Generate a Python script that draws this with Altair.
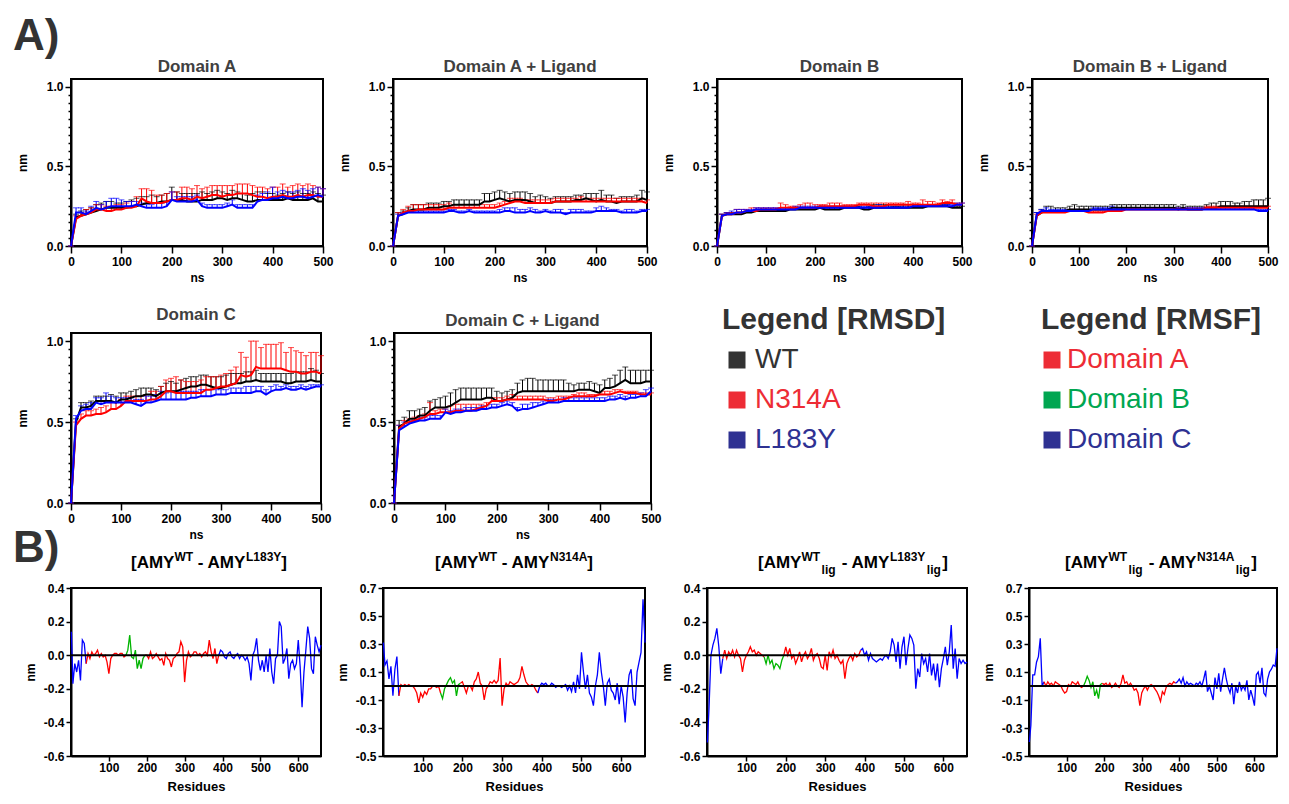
import altair as alt
import pandas as pd

FONT = "Liberation Sans"

# ---------------- RMSD data (nm), every 10 ns ----------------
TIME = list(range(0, 501, 10))
SERIES = ["WT", "N314A", "L183Y"]
SERIES_COLORS = ["#000000", "#ff0000", "#0000ff"]

A_WT = [0.00, 0.18, 0.19, 0.20, 0.21, 0.22, 0.23, 0.24, 0.24, 0.24,
        0.24, 0.24, 0.25, 0.25, 0.26, 0.27, 0.27, 0.27, 0.28, 0.28,
        0.29, 0.29, 0.29, 0.28, 0.28, 0.28, 0.29, 0.29, 0.29, 0.30,
        0.30, 0.29, 0.30, 0.30, 0.29, 0.28, 0.28, 0.29, 0.29, 0.29,
        0.29, 0.29, 0.29, 0.30, 0.29, 0.29, 0.29, 0.29, 0.30, 0.28,
        0.28]
A_WT_ERR = [0, 0.02, 0.03, 0.03, 0.03, 0.04, 0.04, 0.04, 0.04, 0.03,
            0.03, 0.04, 0.04, 0.05, 0.05, 0.04, 0.05, 0.04, 0.04, 0.05,
            0.08, 0.05, 0.04, 0.05, 0.05, 0.05, 0.05, 0.04, 0.05, 0.05,
            0.04, 0.04, 0.05, 0.04, 0.04, 0.04, 0.05, 0.05, 0.05, 0.04,
            0.04, 0.03, 0.04, 0.04, 0.04, 0.05, 0.04, 0.04, 0.04, 0.05,
            0.04]
A_N314A = [0.00, 0.17, 0.19, 0.20, 0.21, 0.23, 0.23, 0.22, 0.22, 0.23,
           0.23, 0.24, 0.24, 0.25, 0.30, 0.28, 0.27, 0.27, 0.27, 0.28,
           0.29, 0.29, 0.30, 0.30, 0.29, 0.31, 0.30, 0.31, 0.32, 0.32,
           0.31, 0.32, 0.32, 0.33, 0.33, 0.33, 0.32, 0.31, 0.31, 0.30,
           0.31, 0.31, 0.32, 0.31, 0.31, 0.32, 0.31, 0.32, 0.32, 0.31,
           0.31]
A_N314A_ERR = [0, 0.02, 0.02, 0.03, 0.03, 0.03, 0.03, 0.03, 0.03, 0.03,
               0.03, 0.03, 0.04, 0.06, 0.06, 0.08, 0.08, 0.05, 0.05, 0.05,
               0.05, 0.05, 0.07, 0.07, 0.07, 0.07, 0.06, 0.06, 0.06, 0.06,
               0.07, 0.06, 0.06, 0.06, 0.06, 0.06, 0.06, 0.06, 0.06, 0.06,
               0.06, 0.06, 0.07, 0.06, 0.07, 0.07, 0.07, 0.07, 0.06, 0.06,
               0.05]
A_L183Y = [0.00, 0.21, 0.21, 0.20, 0.22, 0.24, 0.23, 0.24, 0.25, 0.25,
           0.25, 0.25, 0.25, 0.26, 0.25, 0.24, 0.24, 0.24, 0.24, 0.25,
           0.29, 0.28, 0.28, 0.28, 0.28, 0.29, 0.25, 0.24, 0.24, 0.24,
           0.24, 0.25, 0.26, 0.24, 0.24, 0.24, 0.24, 0.28, 0.29, 0.29,
           0.30, 0.30, 0.31, 0.30, 0.30, 0.31, 0.31, 0.30, 0.31, 0.32,
           0.31]
A_L183Y_ERR = [0, 0.03, 0.03, 0.02, 0.03, 0.04, 0.03, 0.04, 0.05, 0.05,
               0.04, 0.03, 0.03, 0.02, 0.02, 0.02, 0.02, 0.03, 0.03, 0.03,
               0.05, 0.03, 0.03, 0.03, 0.03, 0.03, 0.02, 0.02, 0.02, 0.02,
               0.02, 0.02, 0.03, 0.02, 0.02, 0.02, 0.02, 0.04, 0.04, 0.05,
               0.07, 0.04, 0.04, 0.04, 0.04, 0.04, 0.05, 0.05, 0.05, 0.05,
               0.05]

AL_WT = [0.00, 0.19, 0.20, 0.22, 0.23, 0.23, 0.23, 0.24, 0.24, 0.24,
         0.25, 0.25, 0.26, 0.26, 0.26, 0.26, 0.26, 0.26, 0.28, 0.28,
         0.29, 0.30, 0.29, 0.28, 0.29, 0.29, 0.29, 0.28, 0.27, 0.27,
         0.27, 0.27, 0.28, 0.28, 0.28, 0.28, 0.29, 0.29, 0.30, 0.29,
         0.28, 0.29, 0.28, 0.28, 0.27, 0.28, 0.28, 0.28, 0.28, 0.30,
         0.29]
AL_WT_ERR = [0, 0.02, 0.02, 0.02, 0.03, 0.03, 0.03, 0.03, 0.03, 0.03,
             0.03, 0.03, 0.03, 0.03, 0.03, 0.03, 0.03, 0.03, 0.05, 0.05,
             0.05, 0.05, 0.05, 0.05, 0.05, 0.05, 0.05, 0.05, 0.04, 0.05,
             0.04, 0.03, 0.03, 0.03, 0.03, 0.03, 0.03, 0.03, 0.03, 0.04,
             0.05, 0.06, 0.04, 0.04, 0.03, 0.03, 0.03, 0.03, 0.04, 0.05,
             0.05]
AL_N314A = [0.00, 0.19, 0.21, 0.22, 0.22, 0.23, 0.23, 0.23, 0.23, 0.23,
            0.23, 0.24, 0.24, 0.24, 0.24, 0.24, 0.24, 0.24, 0.24, 0.24,
            0.24, 0.25, 0.26, 0.27, 0.28, 0.28, 0.27, 0.27, 0.27, 0.27,
            0.27, 0.27, 0.28, 0.28, 0.28, 0.28, 0.28, 0.28, 0.28, 0.28,
            0.28, 0.28, 0.28, 0.28, 0.28, 0.28, 0.28, 0.28, 0.28, 0.28,
            0.27]
AL_N314A_ERR = [0, 0.02, 0.02, 0.03, 0.04, 0.03, 0.03, 0.03, 0.03, 0.03,
                0.03, 0.03, 0.02, 0.02, 0.02, 0.02, 0.02, 0.02, 0.02, 0.02,
                0.02, 0.02, 0.02, 0.03, 0.02, 0.02, 0.02, 0.02, 0.02, 0.02,
                0.02, 0.02, 0.02, 0.02, 0.02, 0.02, 0.02, 0.03, 0.02, 0.02,
                0.02, 0.02, 0.02, 0.02, 0.02, 0.02, 0.02, 0.02, 0.02, 0.02,
                0.02]
AL_L183Y = [0.00, 0.19, 0.20, 0.21, 0.21, 0.21, 0.21, 0.21, 0.21, 0.21,
            0.21, 0.22, 0.22, 0.21, 0.21, 0.22, 0.21, 0.21, 0.21, 0.21,
            0.21, 0.21, 0.22, 0.22, 0.21, 0.21, 0.21, 0.22, 0.21, 0.21,
            0.22, 0.21, 0.21, 0.21, 0.20, 0.21, 0.21, 0.21, 0.21, 0.21,
            0.22, 0.22, 0.22, 0.22, 0.22, 0.21, 0.21, 0.21, 0.21, 0.22,
            0.22]
AL_L183Y_ERR = [0, 0.01, 0.01, 0.01, 0.01, 0.01, 0.01, 0.01, 0.01, 0.01,
                0.01, 0.01, 0.01, 0.01, 0.01, 0.01, 0.01, 0.01, 0.01, 0.01,
                0.01, 0.02, 0.02, 0.02, 0.03, 0.02, 0.02, 0.02, 0.02, 0.01,
                0.01, 0.01, 0.02, 0.02, 0.01, 0.02, 0.02, 0.02, 0.01, 0.01,
                0.02, 0.03, 0.02, 0.01, 0.01, 0.01, 0.02, 0.02, 0.01, 0.01,
                0.01]

B_WT = [0.00, 0.19, 0.20, 0.20, 0.20, 0.20, 0.21, 0.21, 0.22, 0.22,
        0.22, 0.22, 0.22, 0.22, 0.22, 0.23, 0.23, 0.23, 0.23, 0.23,
        0.23, 0.24, 0.23, 0.23, 0.23, 0.23, 0.24, 0.24, 0.24, 0.24,
        0.23, 0.23, 0.24, 0.24, 0.24, 0.24, 0.24, 0.24, 0.24, 0.24,
        0.24, 0.24, 0.24, 0.25, 0.25, 0.25, 0.25, 0.25, 0.24, 0.24,
        0.24]
B_WT_ERR = [0, 0.01, 0.01, 0.01, 0.01, 0.01, 0.01, 0.01, 0.01, 0.01,
            0.01, 0.01, 0.01, 0.01, 0.01, 0.01, 0.01, 0.01, 0.01, 0.01,
            0.01, 0.01, 0.01, 0.01, 0.01, 0.01, 0.01, 0.01, 0.01, 0.01,
            0.01, 0.02, 0.02, 0.02, 0.02, 0.02, 0.01, 0.01, 0.02, 0.02,
            0.02, 0.02, 0.01, 0.01, 0.01, 0.01, 0.01, 0.01, 0.01, 0.01,
            0.01]
B_N314A = [0.00, 0.19, 0.20, 0.20, 0.21, 0.21, 0.22, 0.22, 0.22, 0.23,
           0.23, 0.23, 0.23, 0.24, 0.24, 0.24, 0.24, 0.24, 0.24, 0.24,
           0.24, 0.25, 0.25, 0.25, 0.25, 0.25, 0.25, 0.25, 0.25, 0.26,
           0.26, 0.26, 0.25, 0.25, 0.25, 0.26, 0.26, 0.26, 0.26, 0.26,
           0.26, 0.26, 0.26, 0.26, 0.26, 0.26, 0.27, 0.27, 0.27, 0.26,
           0.26]
B_N314A_ERR = [0, 0.01, 0.01, 0.01, 0.02, 0.02, 0.01, 0.02, 0.02, 0.01,
               0.01, 0.01, 0.01, 0.03, 0.02, 0.01, 0.01, 0.02, 0.03, 0.03,
               0.02, 0.01, 0.01, 0.02, 0.02, 0.02, 0.01, 0.01, 0.01, 0.01,
               0.01, 0.01, 0.02, 0.02, 0.02, 0.01, 0.01, 0.01, 0.01, 0.02,
               0.01, 0.01, 0.03, 0.02, 0.02, 0.01, 0.02, 0.01, 0.02, 0.01,
               0.01]
B_L183Y = [0.00, 0.19, 0.20, 0.20, 0.21, 0.21, 0.22, 0.22, 0.23, 0.23,
           0.23, 0.23, 0.23, 0.23, 0.23, 0.23, 0.23, 0.24, 0.24, 0.24,
           0.24, 0.24, 0.24, 0.24, 0.24, 0.24, 0.24, 0.24, 0.24, 0.24,
           0.24, 0.24, 0.24, 0.24, 0.24, 0.24, 0.24, 0.24, 0.24, 0.24,
           0.25, 0.25, 0.25, 0.25, 0.25, 0.25, 0.25, 0.25, 0.25, 0.26,
           0.26]
B_L183Y_ERR = [0, 0.01, 0.01, 0.02, 0.02, 0.02, 0.01, 0.01, 0.01, 0.01,
               0.01, 0.01, 0.01, 0.01, 0.01, 0.01, 0.02, 0.01, 0.01, 0.01,
               0.01, 0.01, 0.01, 0.01, 0.01, 0.01, 0.01, 0.01, 0.01, 0.01,
               0.01, 0.01, 0.01, 0.02, 0.01, 0.01, 0.01, 0.01, 0.01, 0.01,
               0.01, 0.01, 0.01, 0.01, 0.01, 0.01, 0.01, 0.01, 0.01, 0.01,
               0.01]

BL_WT = [0.00, 0.19, 0.21, 0.22, 0.22, 0.22, 0.22, 0.22, 0.23, 0.23,
         0.23, 0.23, 0.23, 0.23, 0.23, 0.23, 0.23, 0.24, 0.24, 0.24,
         0.24, 0.24, 0.24, 0.24, 0.24, 0.24, 0.24, 0.24, 0.24, 0.24,
         0.24, 0.23, 0.24, 0.23, 0.23, 0.23, 0.23, 0.24, 0.24, 0.24,
         0.25, 0.25, 0.25, 0.25, 0.25, 0.25, 0.25, 0.25, 0.25, 0.25,
         0.25]
BL_WT_ERR = [0, 0.02, 0.02, 0.03, 0.03, 0.02, 0.02, 0.02, 0.02, 0.03,
             0.02, 0.02, 0.02, 0.02, 0.02, 0.02, 0.02, 0.02, 0.02, 0.02,
             0.02, 0.02, 0.02, 0.02, 0.02, 0.02, 0.02, 0.02, 0.02, 0.02,
             0.02, 0.02, 0.02, 0.02, 0.02, 0.02, 0.02, 0.02, 0.03, 0.03,
             0.03, 0.03, 0.03, 0.02, 0.02, 0.03, 0.03, 0.04, 0.04, 0.04,
             0.05]
BL_N314A = [0.00, 0.19, 0.21, 0.21, 0.21, 0.21, 0.21, 0.21, 0.22, 0.22,
            0.22, 0.22, 0.21, 0.21, 0.21, 0.21, 0.22, 0.22, 0.22, 0.22,
            0.23, 0.23, 0.23, 0.23, 0.23, 0.23, 0.23, 0.23, 0.23, 0.23,
            0.23, 0.23, 0.23, 0.23, 0.23, 0.23, 0.23, 0.24, 0.24, 0.24,
            0.24, 0.24, 0.24, 0.24, 0.24, 0.24, 0.24, 0.24, 0.24, 0.24,
            0.24]
BL_N314A_ERR = [0, 0.01, 0.01, 0.01, 0.01, 0.01, 0.01, 0.01, 0.01, 0.01,
                0.01, 0.01, 0.01, 0.01, 0.01, 0.01, 0.01, 0.01, 0.01, 0.01,
                0.01, 0.01, 0.01, 0.01, 0.01, 0.01, 0.01, 0.01, 0.01, 0.01,
                0.01, 0.01, 0.01, 0.01, 0.01, 0.01, 0.01, 0.01, 0.01, 0.01,
                0.01, 0.01, 0.01, 0.01, 0.01, 0.01, 0.01, 0.01, 0.01, 0.01,
                0.01]
BL_L183Y = [0.00, 0.20, 0.22, 0.22, 0.22, 0.22, 0.22, 0.22, 0.22, 0.22,
            0.22, 0.22, 0.22, 0.23, 0.23, 0.23, 0.23, 0.23, 0.23, 0.23,
            0.23, 0.23, 0.23, 0.23, 0.23, 0.23, 0.23, 0.23, 0.23, 0.23,
            0.23, 0.23, 0.23, 0.23, 0.23, 0.23, 0.23, 0.23, 0.23, 0.23,
            0.23, 0.23, 0.23, 0.23, 0.23, 0.23, 0.23, 0.23, 0.22, 0.22,
            0.22]
BL_L183Y_ERR = [0, 0.01, 0.01, 0.02, 0.01, 0.01, 0.01, 0.01, 0.01, 0.01,
                0.01, 0.01, 0.01, 0.01, 0.01, 0.01, 0.01, 0.02, 0.01, 0.01,
                0.01, 0.01, 0.01, 0.01, 0.01, 0.01, 0.01, 0.01, 0.01, 0.01,
                0.01, 0.01, 0.01, 0.01, 0.01, 0.01, 0.01, 0.01, 0.01, 0.01,
                0.01, 0.01, 0.01, 0.01, 0.01, 0.01, 0.01, 0.01, 0.01, 0.01,
                0.01]

C_WT = [0.00, 0.50, 0.59, 0.59, 0.60, 0.63, 0.63, 0.63, 0.63, 0.62,
        0.64, 0.64, 0.65, 0.66, 0.66, 0.67, 0.67, 0.66, 0.68, 0.69,
        0.69, 0.69, 0.70, 0.71, 0.72, 0.72, 0.73, 0.73, 0.72, 0.71,
        0.71, 0.72, 0.73, 0.74, 0.74, 0.75, 0.75, 0.76, 0.75, 0.75,
        0.75, 0.75, 0.75, 0.74, 0.74, 0.75, 0.75, 0.75, 0.76, 0.75,
        0.75]
C_WT_ERR = [0, 0.02, 0.03, 0.03, 0.03, 0.03, 0.03, 0.03, 0.04, 0.04,
            0.04, 0.04, 0.04, 0.04, 0.05, 0.04, 0.04, 0.04, 0.04, 0.05,
            0.06, 0.05, 0.06, 0.06, 0.06, 0.06, 0.06, 0.06, 0.06, 0.07,
            0.07, 0.07, 0.07, 0.06, 0.06, 0.06, 0.06, 0.06, 0.05, 0.05,
            0.05, 0.05, 0.05, 0.06, 0.06, 0.06, 0.06, 0.06, 0.07, 0.07,
            0.05]
C_N314A = [0.00, 0.48, 0.52, 0.54, 0.54, 0.55, 0.55, 0.56, 0.58, 0.58,
           0.60, 0.63, 0.63, 0.63, 0.63, 0.63, 0.64, 0.64, 0.66, 0.69,
           0.69, 0.68, 0.68, 0.68, 0.68, 0.68, 0.68, 0.70, 0.70, 0.71,
           0.72, 0.72, 0.73, 0.74, 0.79, 0.78, 0.79, 0.84, 0.83, 0.83,
           0.83, 0.83, 0.83, 0.82, 0.81, 0.81, 0.80, 0.80, 0.81, 0.81,
           0.80]
C_N314A_ERR = [0, 0.02, 0.03, 0.03, 0.03, 0.03, 0.04, 0.04, 0.04, 0.04,
               0.04, 0.03, 0.03, 0.03, 0.03, 0.04, 0.05, 0.05, 0.06, 0.07,
               0.08, 0.10, 0.08, 0.07, 0.07, 0.07, 0.08, 0.08, 0.08, 0.07,
               0.07, 0.08, 0.09, 0.10, 0.14, 0.12, 0.21, 0.16, 0.13, 0.15,
               0.15, 0.15, 0.16, 0.11, 0.15, 0.13, 0.13, 0.11, 0.12, 0.12,
               0.11]
C_L183Y = [0.00, 0.52, 0.57, 0.58, 0.58, 0.62, 0.61, 0.62, 0.62, 0.62,
           0.62, 0.62, 0.62, 0.61, 0.60, 0.62, 0.62, 0.63, 0.64, 0.64,
           0.64, 0.64, 0.64, 0.64, 0.65, 0.65, 0.66, 0.66, 0.66, 0.67,
           0.67, 0.67, 0.68, 0.68, 0.68, 0.68, 0.68, 0.69, 0.69, 0.67,
           0.69, 0.70, 0.70, 0.71, 0.70, 0.70, 0.71, 0.70, 0.71, 0.72,
           0.72]
C_L183Y_ERR = [0, 0.02, 0.03, 0.03, 0.04, 0.03, 0.04, 0.06, 0.04, 0.03,
               0.03, 0.03, 0.03, 0.03, 0.04, 0.04, 0.04, 0.04, 0.05, 0.04,
               0.05, 0.05, 0.05, 0.05, 0.04, 0.04, 0.04, 0.04, 0.04, 0.03,
               0.03, 0.03, 0.03, 0.03, 0.03, 0.04, 0.04, 0.03, 0.03, 0.03,
               0.03, 0.03, 0.02, 0.02, 0.02, 0.02, 0.02, 0.02, 0.02, 0.01,
               0.01]

CL_WT = [0.00, 0.47, 0.49, 0.52, 0.52, 0.54, 0.54, 0.57, 0.59, 0.59,
         0.59, 0.60, 0.62, 0.64, 0.64, 0.64, 0.64, 0.64, 0.65, 0.65,
         0.63, 0.63, 0.64, 0.65, 0.68, 0.69, 0.69, 0.69, 0.69, 0.69,
         0.69, 0.69, 0.69, 0.69, 0.69, 0.69, 0.70, 0.70, 0.70, 0.69,
         0.68, 0.71, 0.71, 0.72, 0.74, 0.76, 0.74, 0.74, 0.74, 0.75,
         0.75]
CL_WT_ERR = [0, 0.04, 0.04, 0.05, 0.05, 0.04, 0.05, 0.06, 0.05, 0.06,
             0.07, 0.08, 0.08, 0.07, 0.07, 0.07, 0.07, 0.07, 0.06, 0.06,
             0.06, 0.05, 0.05, 0.05, 0.06, 0.07, 0.08, 0.08, 0.07, 0.07,
             0.07, 0.07, 0.07, 0.07, 0.05, 0.04, 0.04, 0.04, 0.05, 0.05,
             0.05, 0.05, 0.06, 0.07, 0.08, 0.08, 0.08, 0.08, 0.08, 0.07,
             0.07]
CL_N314A = [0.00, 0.46, 0.49, 0.50, 0.51, 0.52, 0.53, 0.55, 0.55, 0.56,
            0.56, 0.56, 0.57, 0.57, 0.57, 0.57, 0.58, 0.59, 0.60, 0.63,
            0.63, 0.63, 0.64, 0.64, 0.64, 0.64, 0.64, 0.64, 0.64, 0.64,
            0.63, 0.63, 0.64, 0.64, 0.65, 0.66, 0.66, 0.66, 0.66, 0.66,
            0.67, 0.67, 0.67, 0.68, 0.69, 0.68, 0.68, 0.68, 0.67, 0.67,
            0.67]
CL_N314A_ERR = [0, 0.02, 0.02, 0.02, 0.02, 0.02, 0.02, 0.07, 0.02, 0.02,
                0.02, 0.04, 0.04, 0.04, 0.04, 0.04, 0.03, 0.02, 0.02, 0.02,
                0.02, 0.02, 0.02, 0.03, 0.02, 0.02, 0.02, 0.02, 0.02, 0.02,
                0.02, 0.02, 0.02, 0.02, 0.01, 0.01, 0.02, 0.02, 0.01, 0.01,
                0.01, 0.02, 0.02, 0.02, 0.01, 0.01, 0.01, 0.01, 0.01, 0.01,
                0.01]
CL_L183Y = [0.00, 0.45, 0.47, 0.49, 0.50, 0.51, 0.51, 0.52, 0.52, 0.52,
            0.56, 0.55, 0.56, 0.56, 0.57, 0.57, 0.57, 0.58, 0.58, 0.59,
            0.59, 0.60, 0.61, 0.60, 0.57, 0.58, 0.58, 0.59, 0.60, 0.61,
            0.62, 0.62, 0.62, 0.63, 0.63, 0.63, 0.63, 0.63, 0.63, 0.63,
            0.63, 0.63, 0.64, 0.64, 0.65, 0.64, 0.65, 0.65, 0.66, 0.66,
            0.69]
CL_L183Y_ERR = [0, 0.03, 0.03, 0.02, 0.02, 0.02, 0.02, 0.02, 0.02, 0.02,
                0.02, 0.02, 0.02, 0.02, 0.02, 0.02, 0.02, 0.02, 0.02, 0.02,
                0.02, 0.02, 0.02, 0.02, 0.02, 0.03, 0.03, 0.03, 0.02, 0.02,
                0.02, 0.02, 0.02, 0.02, 0.02, 0.02, 0.02, 0.02, 0.02, 0.02,
                0.02, 0.02, 0.02, 0.02, 0.02, 0.02, 0.02, 0.02, 0.02, 0.04,
                0.02]

# ---------------- RMSF difference data (nm), sampled residues ----------------
RES = [1] + list(range(5, 661, 5))
DOMAIN_NAMES = ["Domain A", "Domain B", "Domain C"]
DOMAIN_LINE_COLORS = ["#ff0000", "#00b400", "#0000ff"]
DOMAIN_SEGMENTS = [(1, 40, "Domain C"), (40, 145, "Domain A"), (145, 195, "Domain B"),
                   (195, 390, "Domain A"), (390, 660, "Domain C")]

D_WT_L183Y = [0.14, -0.17, -0.05, -0.10, -0.03, -0.15, 0.09, 0.07, -0.05, 0.01,
              -0.02, 0.02, 0.00, 0.01, 0.03, -0.01, 0.01, -0.01, 0.00, -0.04,
              -0.11, -0.02, 0.00, 0.01, 0.01, 0.00, 0.01, 0.01, -0.01, 0.00,
              0.03, 0.12, -0.01, -0.02, 0.03, -0.08, -0.03, -0.08, -0.02, 0.00,
              0.00, -0.02, 0.02, -0.02, -0.01, 0.01, -0.01, -0.03, -0.02, -0.06,
              0.01, -0.02, -0.03, -0.07, -0.02, -0.01, 0.01, 0.02, 0.08, 0.05,
              -0.16, -0.03, 0.02, -0.01, 0.00, 0.02, 0.02, 0.00, 0.01, -0.01,
              0.01, 0.02, 0.00, 0.09, 0.02, -0.02, 0.04, -0.05, 0.00, 0.03,
              0.02, -0.01, -0.02, 0.01, 0.02, -0.01, -0.02, 0.00, 0.01, -0.02,
              0.00, -0.01, -0.03, -0.01, -0.05, -0.15, 0.00, 0.03, 0.10, -0.03,
              -0.09, -0.03, -0.10, 0.00, -0.10, 0.04, -0.10, -0.17, -0.02, 0.00,
              0.20, 0.17, -0.05, -0.02, 0.04, -0.14, -0.05, -0.03, -0.08, -0.05,
              0.09, -0.07, -0.31, -0.10, 0.03, 0.17, 0.10, -0.08, -0.11, 0.11,
              0.06, 0.02, 0.06]
D_WT_N314A = [0.31, 0.15, 0.18, 0.05, 0.14, -0.07, 0.12, 0.21, -0.07, 0.01,
              0.00, 0.01, 0.00, 0.01, 0.00, 0.00, -0.02, -0.05, -0.12, -0.05,
              -0.08, -0.04, -0.06, -0.02, -0.02, 0.00, 0.00, -0.01, 0.00, -0.05,
              -0.09, -0.02, 0.01, 0.04, 0.06, 0.02, 0.04, -0.07, 0.01, 0.02,
              0.03, -0.01, -0.05, 0.00, 0.00, -0.03, 0.03, 0.05, 0.10, 0.02,
              0.00, -0.10, -0.02, 0.00, 0.03, 0.02, 0.04, 0.02, 0.04, 0.20,
              -0.14, -0.02, 0.02, 0.00, 0.03, 0.02, 0.01, 0.02, 0.03, 0.06,
              0.14, 0.08, 0.03, 0.01, 0.00, 0.01, 0.00, -0.03, -0.05, 0.00,
              0.02, 0.01, 0.02, 0.00, 0.00, 0.02, 0.01, -0.01, 0.00, 0.00,
              -0.01, 0.00, 0.01, -0.03, 0.00, -0.04, 0.03, -0.05, 0.08, -0.02,
              0.24, 0.10, -0.02, 0.08, -0.05, -0.08, -0.14, 0.00, 0.08, 0.24,
              0.10, 0.00, -0.14, 0.02, 0.05, -0.03, -0.05, -0.10, 0.02, -0.13,
              0.00, -0.08, -0.26, -0.05, 0.08, 0.12, -0.09, -0.14, 0.10, 0.17,
              0.24, 0.62, 0.31]
D_WTLIG_L183YLIG = [-0.52, -0.32, 0.00, 0.06, 0.10, 0.16, 0.05, -0.11, -0.02, 0.03,
                    -0.02, 0.02, 0.00, 0.03, -0.01, 0.03, 0.00, -0.02, -0.10, -0.03,
                    0.00, 0.02, 0.05, 0.02, 0.03, 0.00, 0.02, 0.01, 0.00, -0.01,
                    -0.05, 0.00, -0.05, -0.03, -0.08, -0.05, -0.06, -0.08, -0.03, 0.00,
                    0.05, 0.00, 0.04, -0.02, 0.00, -0.05, -0.02, 0.02, -0.04, 0.00,
                    0.02, -0.02, 0.00, 0.04, -0.03, 0.00, 0.01, -0.02, -0.07, -0.08,
                    0.00, -0.09, 0.02, -0.01, 0.03, -0.02, 0.00, -0.03, -0.05, -0.03,
                    -0.14, -0.05, -0.02, 0.00, -0.03, 0.01, -0.01, 0.00, 0.03, 0.04,
                    0.00, 0.02, -0.03, 0.01, -0.02, -0.03, -0.04, -0.03, -0.02, -0.03,
                    -0.01, 0.00, -0.02, 0.02, 0.10, 0.06, -0.04, 0.08, -0.08, 0.05,
                    0.11, -0.06, 0.04, 0.12, 0.10, 0.06, -0.20, -0.08, -0.13, 0.01,
                    -0.05, -0.02, -0.10, 0.01, -0.12, -0.05, -0.15, -0.05, -0.19, -0.08,
                    -0.02, 0.05, -0.06, 0.02, 0.18, -0.08, 0.04, -0.14, -0.02, -0.05,
                    -0.03, -0.05, -0.04]
D_WTLIG_N314ALIG = [-0.40, -0.28, 0.08, 0.08, 0.17, 0.21, 0.34, 0.00, 0.03, 0.00,
                    0.03, 0.01, 0.02, 0.00, 0.03, 0.02, 0.01, 0.00, -0.03, -0.05,
                    -0.04, 0.01, 0.00, 0.03, 0.02, 0.01, 0.03, 0.00, -0.01, 0.00,
                    0.03, 0.07, 0.04, -0.01, 0.03, -0.07, -0.03, -0.09, 0.01, 0.02,
                    0.01, 0.02, 0.00, 0.02, -0.01, 0.00, 0.02, 0.00, -0.01, 0.02,
                    0.08, 0.02, 0.03, 0.00, 0.02, 0.00, -0.03, -0.02, -0.05, -0.14,
                    -0.05, -0.02, 0.00, -0.03, 0.00, 0.01, 0.00, -0.02, -0.04, -0.07,
                    -0.11, -0.04, -0.06, -0.01, 0.01, 0.02, 0.01, 0.03, 0.02, 0.03,
                    0.05, 0.02, 0.06, 0.00, 0.03, 0.01, 0.02, 0.01, 0.00, 0.02,
                    0.01, 0.03, 0.00, 0.05, 0.11, -0.04, 0.00, -0.05, -0.10, 0.06,
                    -0.02, 0.09, -0.04, 0.05, 0.13, 0.05, -0.01, -0.05, 0.02, -0.13,
                    0.00, -0.05, 0.03, -0.03, 0.00, -0.03, 0.04, -0.10, -0.03, -0.08,
                    -0.14, 0.08, 0.10, 0.02, 0.13, -0.05, -0.07, 0.05, 0.10, 0.12,
                    0.15, 0.14, 0.27]

# ---------------- ticks / labels ----------------
NS_TICKS = [0, 100, 200, 300, 400, 500]
RMSD_Y_TICKS = [0.0, 0.05, 0.1, 0.15, 0.2, 0.25, 0.3, 0.35, 0.4, 0.45, 0.5,
                0.55, 0.6, 0.65, 0.7, 0.75, 0.8, 0.85, 0.9, 0.95, 1.0]
RES_TICKS = [100, 200, 300, 400, 500, 600]
RMSF_Y_TICKS_1 = [-0.6, -0.4, -0.2, 0.0, 0.2, 0.4]
RMSF_Y_TICKS_2 = [-0.5, -0.3, -0.1, 0.1, 0.3, 0.5, 0.7]

RMSD_LEGEND_LABELS = ["WT", "N314A", "L183Y"]
RMSD_LEGEND_COLORS = ["#333333", "#ed2c35", "#2e3192"]
RMSF_LEGEND_LABELS = ["Domain A", "Domain B", "Domain C"]
RMSF_LEGEND_COLORS = ["#ed2c35", "#00a651", "#2e3192"]

MAJOR_TEST = "abs(datum.value % 0.5) < 0.001 || abs(datum.value % 0.5 - 0.5) < 0.001"

# Arial/Liberation Sans Bold advance widths (per 1000 em) for title layout
W_BOLD = {' ': 278, '[': 333, ']': 333, '-': 333, 'A': 722, 'M': 833, 'Y': 667,
          'W': 944, 'T': 611, 'L': 611, 'N': 722, '1': 556, '3': 556, '4': 556,
          '8': 556, 'l': 278, 'i': 278, 'g': 611}


def tw(s, fs):
    return sum(W_BOLD.get(c, 600) for c in s) * fs / 1000.0


def text_layer(txt, x, y, size, weight="bold", color="#000000", align="left", baseline="alphabetic"):
    return alt.Chart(pd.DataFrame({"t": [txt]})).mark_text(
        align=align, baseline=baseline, fontSize=size, fontWeight=weight, font=FONT, color=color
    ).encode(text="t:N", x=alt.value(x), y=alt.value(y))


def rmsd_panel(title, vals, errs, width, height, title_y=-7, extra=()):
    rows = []
    for name, vl, el in zip(SERIES, vals, errs):
        for t, v, e in zip(TIME, vl, el):
            rows.append({"t": t, "v": v, "up": round(v + e, 4), "s": name})
    df = pd.DataFrame(rows)
    xs = alt.Scale(domain=[0, 500], nice=False, zero=False)
    ys = alt.Scale(domain=[0, 1.05], nice=False)
    col = alt.Color("s:N", scale=alt.Scale(domain=SERIES, range=SERIES_COLORS), legend=None)
    x_axis = alt.Axis(values=NS_TICKS, tickCount=60, title="ns", labelFlush=False, tickSize=7,
                      labelPadding=3, titlePadding=5, format="d", labelOverlap=False)
    y_axis = alt.Axis(values=RMSD_Y_TICKS, tickCount=60, title="nm", labelOverlap=False,
                      labelExpr="(" + MAJOR_TEST + ") ? format(datum.value, '.1f') : ''",
                      tickSize={"condition": {"test": MAJOR_TEST, "value": 6}, "value": 3},
                      titlePadding=17)
    base = alt.Chart(df)
    stems = base.mark_rule(strokeWidth=1).encode(
        x=alt.X("t:Q", scale=xs, axis=x_axis),
        y=alt.Y("v:Q", scale=ys, axis=y_axis),
        y2="up:Q", color=col)
    caps = base.mark_tick(orient="horizontal", size=6, thickness=1).encode(
        x=alt.X("t:Q", scale=xs), y=alt.Y("up:Q", scale=ys), color=col)
    line = base.mark_line(strokeWidth=2).encode(
        x=alt.X("t:Q", scale=xs), y=alt.Y("v:Q", scale=ys), color=col)
    ttl = text_layer(title, width / 2.0, title_y, 17, color="#404040", align="center")
    return alt.layer(stems, caps, line, ttl, *extra).properties(
        width=width, height=height,
        view=alt.ViewBackground(stroke="#000000", strokeWidth=2))


def title_pieces(pieces, width, dx=0.0, sub_gap=1.5):
    sizes = {"b": 17, "p": 12, "s": 12}
    ys = {"b": -20, "p": -27, "s": -14}
    gaps = {"b": 0.0, "p": 0.0, "s": sub_gap}
    total = sum(tw(t, sizes[k]) + 2 * gaps[k] for t, k in pieces)
    x = width / 2.0 - total / 2.0 + dx
    layers = []
    for t, k in pieces:
        x += gaps[k]
        lead = len(t) - len(t.lstrip(" "))
        layers.append(text_layer(t.strip(" "), x + tw(" " * lead, sizes[k]), ys[k], sizes[k]))
        x += tw(t, sizes[k]) + gaps[k]
    return layers


def rmsf_panel(pieces, vals, ydom, yticks, width, height, dx=0.0, extra=()):
    rows = []
    for si, (a, b, dom) in enumerate(DOMAIN_SEGMENTS):
        for r, v in zip(RES, vals):
            if a <= r <= b:
                rows.append({"res": r, "v": v, "dom": dom, "seg": si})
    df = pd.DataFrame(rows)
    xs = alt.Scale(domain=[0, 660], nice=False, zero=False)
    ys = alt.Scale(domain=ydom, nice=False, zero=False)
    x_axis = alt.Axis(values=RES_TICKS, tickCount=60, title="Residues", labelFlush=False, tickSize=5,
                      labelPadding=1, titlePadding=7, titleFontSize=13, format="d",
                      labelOverlap=False)
    y_axis = alt.Axis(values=yticks, tickCount=60, title="nm", labelOverlap=False, tickSize=5,
                      labelExpr="replace(format(datum.value, '.1f'), '\u2212', '-')",
                      titlePadding=6)
    line = alt.Chart(df).mark_line(strokeWidth=1.3).encode(
        x=alt.X("res:Q", scale=xs, axis=x_axis),
        y=alt.Y("v:Q", scale=ys, axis=y_axis),
        color=alt.Color("dom:N", scale=alt.Scale(domain=DOMAIN_NAMES, range=DOMAIN_LINE_COLORS),
                        legend=None),
        detail="seg:N", order="res:Q")
    zero = alt.Chart(pd.DataFrame({"z": [0.0]})).mark_rule(color="#000000", strokeWidth=2).encode(
        y=alt.Y("z:Q", scale=ys))
    return alt.layer(line, zero, *title_pieces(pieces, width, dx), *extra).properties(
        width=width, height=height,
        view=alt.ViewBackground(stroke="#000000", strokeWidth=2))


def legend_cell(header, labels, colors, width, height, hx, sx, tx):
    ys = alt.Scale(domain=[0.325, 4.575], reverse=True, nice=False, zero=False)
    hdf = pd.DataFrame({"r": [0], "t": [header]})
    idf = pd.DataFrame({"r": [1, 2, 3], "t": labels, "c": colors})
    head = alt.Chart(hdf).mark_text(align="left", baseline="middle", fontSize=30,
                                    fontWeight="bold", font=FONT, color="#333333").encode(
        x=alt.value(hx), y=alt.Y("r:Q", scale=ys, axis=None), text="t:N")
    sq = alt.Chart(idf).mark_square(size=289, opacity=1).encode(
        x=alt.value(sx), y=alt.Y("r:Q", scale=ys, axis=None),
        color=alt.Color("c:N", scale=None))
    txt = alt.Chart(idf).mark_text(align="left", baseline="middle", fontSize=28, font=FONT).encode(
        x=alt.value(tx), y=alt.Y("r:Q", scale=ys, axis=None), text="t:N",
        color=alt.Color("c:N", scale=None))
    return alt.layer(head, sq, txt).properties(
        width=width, height=height, view=alt.ViewBackground(stroke=None))


H1, H2, H3 = 167, 170, 168

p1 = rmsd_panel("Domain A", [A_WT, A_N314A, A_L183Y], [A_WT_ERR, A_N314A_ERR, A_L183Y_ERR], 252, H1,
                extra=[text_layer("A)", -58, -64, 44, color="#333333", baseline="top")])
p2 = rmsd_panel("Domain A + Ligand", [AL_WT, AL_N314A, AL_L183Y],
                [AL_WT_ERR, AL_N314A_ERR, AL_L183Y_ERR], 254, H1)
p3 = rmsd_panel("Domain B", [B_WT, B_N314A, B_L183Y], [B_WT_ERR, B_N314A_ERR, B_L183Y_ERR], 245, H1)
p4 = rmsd_panel("Domain B + Ligand", [BL_WT, BL_N314A, BL_L183Y],
                [BL_WT_ERR, BL_N314A_ERR, BL_L183Y_ERR], 236, H1)

p5 = rmsd_panel("Domain C", [C_WT, C_N314A, C_L183Y], [C_WT_ERR, C_N314A_ERR, C_L183Y_ERR], 250, H2,
                title_y=-13)
p6 = rmsd_panel("Domain C + Ligand", [CL_WT, CL_N314A, CL_L183Y],
                [CL_WT_ERR, CL_N314A_ERR, CL_L183Y_ERR], 257, H2)
leg1 = legend_cell("Legend [RMSD]", RMSD_LEGEND_LABELS, RMSD_LEGEND_COLORS, 240, H2, -2, 13, 31)
leg2 = legend_cell("Legend [RMSF]", RMSF_LEGEND_LABELS, RMSF_LEGEND_COLORS, 240, H2, 4, 15, 30)

b1 = rmsf_panel([("[AMY", "b"), ("WT", "p"), (" - AMY", "b"), ("L183Y", "p"), ("]", "b")],
                D_WT_L183Y, [-0.6, 0.4], RMSF_Y_TICKS_1, 250, H3, dx=13,
                extra=[text_layer("B)", -58, -61, 44, color="#333333", baseline="top")])
b2 = rmsf_panel([("[AMY", "b"), ("WT", "p"), (" - AMY", "b"), ("N314A", "p"), ("]", "b")],
                D_WT_N314A, [-0.5, 0.7], RMSF_Y_TICKS_2, 262, H3)
b3 = rmsf_panel([("[AMY", "b"), ("WT", "p"), ("lig", "s"), (" - AMY", "b"), ("L183Y", "p"),
                 ("lig", "s"), ("]", "b")],
                D_WTLIG_L183YLIG, [-0.6, 0.4], RMSF_Y_TICKS_1, 260, H3, dx=16)
b4 = rmsf_panel([("[AMY", "b"), ("WT", "p"), ("lig", "s"), (" - AMY", "b"), ("N314A", "p"),
                 ("lig", "s"), ("]", "b")],
                D_WTLIG_N314ALIG, [-0.5, 0.7], RMSF_Y_TICKS_2, 248, H3, dx=8)

row1 = alt.hconcat(p1, p2, p3, p4, spacing=70, bounds="flush").resolve_scale(color="independent")
row2 = alt.hconcat(p5, p6, leg1, leg2, spacing=73, bounds="flush").resolve_scale(color="independent")
row3 = alt.hconcat(b1, b2, b3, b4, spacing=62, bounds="flush").resolve_scale(color="independent")

part_a = alt.vconcat(row1, row2, spacing=21).resolve_scale(color="independent")

chart = alt.vconcat(part_a, row3, spacing=-15).resolve_scale(
    color="independent"
).properties(
    padding={"left": 4, "top": 6, "right": 0, "bottom": 0}
).configure(
    font=FONT
).configure_view(
    stroke=None
).configure_axis(
    labelFont=FONT, labelFontWeight="bold", labelFontSize=12, labelColor="#000000",
    titleFont=FONT, titleFontWeight="bold", titleFontSize=12, titleColor="#000000",
    domainColor="#000000", domainWidth=2, tickColor="#000000", tickWidth=1.5, grid=False
)

chart.save("out.html", embed_options={"renderer": "svg", "actions": False})
